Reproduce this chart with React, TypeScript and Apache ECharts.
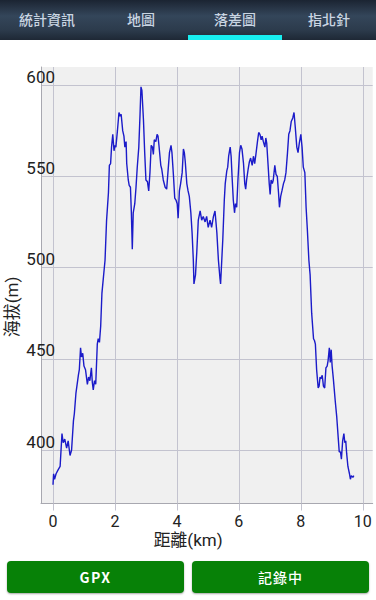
import React, { useEffect, useRef } from "react";
import * as echarts from "echarts";

// ---- data ----
const distanceKm = [
  0.00, 0.02, 0.05, 0.10, 0.16, 0.23, 0.26, 0.29, 0.33, 0.38, 0.44, 0.49, 0.55, 0.60, 0.66, 0.69, 0.74, 0.82, 0.85, 0.89,
  0.92, 0.96, 1.00, 1.05, 1.11, 1.15, 1.19, 1.24, 1.27, 1.30, 1.34, 1.38, 1.43, 1.46, 1.50, 1.54, 1.58, 1.63, 1.68, 1.73,
  1.79, 1.82, 1.86, 1.89, 1.93, 1.97, 2.00, 2.03, 2.08, 2.13, 2.16, 2.20, 2.25, 2.29, 2.32, 2.36, 2.38, 2.43, 2.46, 2.50,
  2.53, 2.56, 2.59, 2.64, 2.68, 2.72, 2.77, 2.81, 2.84, 2.87, 2.92, 2.96, 3.00, 3.05, 3.09, 3.13, 3.17, 3.21, 3.24, 3.27,
  3.32, 3.36, 3.39, 3.42, 3.48, 3.51, 3.56, 3.62, 3.67, 3.71, 3.76, 3.81, 3.84, 3.89, 3.93, 3.97, 4.01, 4.04, 4.08, 4.12,
  4.17, 4.21, 4.24, 4.27, 4.32, 4.36, 4.40, 4.45, 4.49, 4.53, 4.55, 4.60, 4.64, 4.69, 4.75, 4.80, 4.85, 4.91, 4.96, 5.01,
  5.07, 5.12, 5.18, 5.23, 5.29, 5.34, 5.39, 5.41, 5.48, 5.53, 5.56, 5.61, 5.64, 5.67, 5.72, 5.75, 5.78, 5.82, 5.86, 5.89,
  5.93, 5.97, 6.02, 6.06, 6.10, 6.15, 6.19, 6.22, 6.25, 6.30, 6.34, 6.38, 6.43, 6.47, 6.51, 6.55, 6.60, 6.64, 6.68, 6.72,
  6.75, 6.79, 6.84, 6.87, 6.90, 6.94, 6.98, 7.01, 7.04, 7.08, 7.11, 7.16, 7.20, 7.24, 7.28, 7.31, 7.35, 7.39, 7.44, 7.48,
  7.52, 7.57, 7.61, 7.65, 7.69, 7.74, 7.78, 7.82, 7.87, 7.91, 7.95, 8.00, 8.04, 8.08, 8.13, 8.17, 8.21, 8.26, 8.30, 8.35,
  8.41, 8.44, 8.47, 8.51, 8.56, 8.59, 8.62, 8.65, 8.69, 8.73, 8.77, 8.81, 8.85, 8.88, 8.92, 8.95, 8.98, 9.01, 9.05, 9.11,
  9.16, 9.21, 9.24, 9.28, 9.31, 9.35, 9.39, 9.42, 9.45, 9.48, 9.52, 9.57, 9.60, 9.63, 9.68, 9.71,
];
const elevationM = [
  381, 387, 384, 387, 389, 391, 400, 409, 404, 406, 401, 405, 397, 400, 416, 420, 431, 441, 444, 456,
  451, 453, 446, 444, 436, 440, 438, 445, 437, 433, 438, 436, 458, 461, 459, 468, 486, 495, 504, 526,
  541, 556, 557, 566, 573, 564, 567, 566, 575, 585, 583, 584, 575, 572, 566, 569, 557, 548, 545, 544,
  530, 510, 530, 535, 544, 555, 566, 584, 599, 597, 581, 563, 548, 547, 542, 552, 567, 566, 562, 570,
  569, 573, 572, 567, 556, 554, 548, 544, 543, 552, 563, 567, 563, 550, 538, 537, 535, 527, 542, 546,
  552, 565, 563, 558, 546, 542, 539, 530, 519, 504, 491, 496, 508, 526, 531, 526, 528, 525, 528, 522,
  526, 522, 528, 531, 519, 504, 494, 491, 515, 537, 546, 553, 555, 561, 566, 561, 550, 537, 530, 535,
  533, 548, 563, 567, 565, 557, 546, 543, 548, 554, 558, 560, 556, 561, 557, 562, 569, 574, 573, 570,
  572, 569, 566, 571, 568, 557, 546, 540, 548, 546, 548, 556, 551, 550, 541, 533, 539, 542, 546, 548,
  552, 563, 573, 575, 580, 582, 585, 577, 566, 563, 568, 573, 566, 555, 552, 533, 521, 504, 496, 475,
  461, 460, 458, 444, 434, 435, 440, 439, 441, 435, 434, 445, 446, 449, 456, 448, 455, 446, 439, 427,
  418, 406, 399, 399, 395, 405, 409, 404, 405, 398, 391, 387, 384, 386, 385, 386,
];
const xTicks = [0, 2, 4, 6, 8, 10];
const yTicks = [400, 450, 500, 550, 600];
const xRange = [-0.387, 10.32];
const yRange = [370.7, 609.9];
const xTitle = "距離(km)";
const yTitle = "海拔(m)";
const tabs = ["統計資訊", "地圖", "落差圖", "指北針"];
const activeTab = 2;
const buttons = ["GPX", "記錄中"];

const FONT = "Roboto, 'Noto Sans CJK TC', 'Noto Sans', sans-serif";
const GRID_COLOR = "#c3c3cf";

export default function App() {
  const ref = useRef<HTMLDivElement>(null);

  useEffect(() => {
    const chart = echarts.init(ref.current!, null, { renderer: "svg" });
    chart.setOption({
      animation: false,
      textStyle: { fontFamily: FONT },
      grid: {
        left: 41,
        top: 67,
        width: 331.7,
        height: 436.5,
        show: true,
        backgroundColor: "#f0f0f0",
        borderWidth: 0,
        containLabel: false,
        outerBoundsMode: "none",
      },
      xAxis: {
        type: "value",
        min: xRange[0],
        max: xRange[1],
        axisLine: { show: true, onZero: false, lineStyle: { color: "#a8a8b0", width: 1 } },
        axisTick: { show: true, customValues: xTicks, length: 7, lineStyle: { color: GRID_COLOR } },
        axisLabel: { customValues: xTicks, margin: 10, fontSize: 16, color: "#222", fontFamily: FONT },
        splitLine: { show: true, lineStyle: { color: GRID_COLOR, width: 1 } },
      },
      yAxis: {
        type: "value",
        min: yRange[0],
        max: yRange[1],
        axisLine: { show: true, onZero: false, lineStyle: { color: "#a8a8b0", width: 1 } },
        axisTick: { show: false, customValues: yTicks },
        axisLabel: {
          customValues: yTicks,
          margin: -14,
          verticalAlign: "bottom",
          fontSize: 17,
          color: "#222",
          fontFamily: FONT,
        },
        splitLine: { show: true, lineStyle: { color: GRID_COLOR, width: 1 } },
      },
      graphic: [
        {
          type: "text",
          x: 188,
          y: 540,
          style: {
            text: xTitle,
            fontSize: 17,
            fontFamily: FONT,
            fill: "#222",
            align: "center",
            verticalAlign: "middle",
          },
        },
        {
          type: "text",
          x: 12,
          y: 307,
          rotation: Math.PI / 2,
          style: {
            text: yTitle,
            fontSize: 17,
            fontFamily: FONT,
            fill: "#222",
            align: "center",
            verticalAlign: "middle",
          },
        },
      ],
      series: [
        {
          type: "line",
          data: distanceKm.map((d, i) => [d, elevationM[i]]),
          showSymbol: false,
          silent: true,
          lineStyle: { color: "#1b1bc9", width: 1.4 },
        },
      ],
    });
    return () => chart.dispose();
  }, []);

  return (
    <div
      style={{
        position: "fixed",
        left: 0,
        top: 0,
        width: 376,
        height: 600,
        background: "#ffffff",
        overflow: "hidden",
        fontFamily: FONT,
      }}
    >
      <div ref={ref} style={{ position: "absolute", left: 0, top: 0, width: 376, height: 600 }} />
      <div
        style={{
          position: "absolute",
          left: 0,
          top: 0,
          width: 376,
          height: 40,
          background: "linear-gradient(#1b2432 0%, #34465a 40%, #2c3b4c 75%, #1e2835 100%)",
        }}
      >
        {tabs.map((t, i) => (
          <div
            key={t}
            style={{
              position: "absolute",
              left: i * 94,
              top: 0,
              width: 94,
              height: 40,
              lineHeight: "40px",
              textAlign: "center",
              color: "#c9d5e2",
              fontSize: 14,
              fontWeight: 500,
              fontFamily: "'Noto Sans CJK TC', sans-serif",
              marginTop: -1,
            }}
          >
            {t}
          </div>
        ))}
        <div
          style={{
            position: "absolute",
            left: activeTab * 94,
            top: 35,
            width: 94,
            height: 5,
            background: "#18eef0",
          }}
        />
      </div>
      {buttons.map((b, i) => (
        <div
          key={b}
          style={{
            position: "absolute",
            left: 7 + i * 185,
            top: 561,
            width: 177,
            height: 32,
            borderRadius: 4,
            background: "#078107",
            boxShadow: "0 1px 2px rgba(0,0,0,0.35)",
            color: "#ffffff",
            fontSize: 14,
            fontWeight: i === 0 ? 700 : 500,
            letterSpacing: i === 0 ? 1.5 : 1,
            lineHeight: "32px",
            textAlign: "center",
            fontFamily: "'Noto Sans CJK TC', Roboto, sans-serif",
          }}
        >
          {b}
        </div>
      ))}
    </div>
  );
}
